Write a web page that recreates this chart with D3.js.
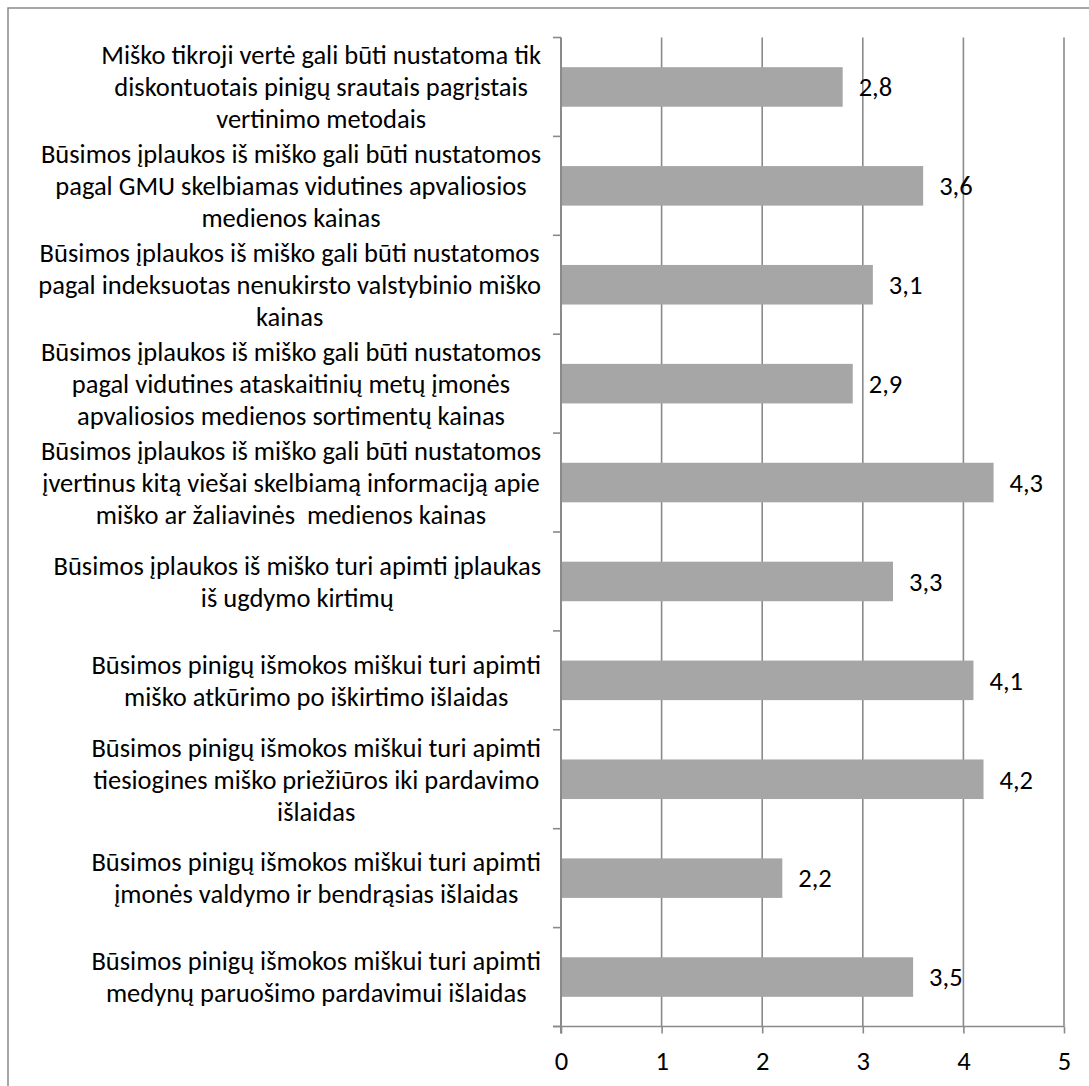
<!DOCTYPE html>
<meta charset="utf-8">
<script src="https://d3js.org/d3.v7.min.js"></script>
<style>
  body { margin: 0; background: #fff; }
  text { font-family: Carlito, Calibri, Lato, sans-serif; fill: #000; }
</style>
<div id="chart"></div>
<script>

// categories (line breaks as in the picture), top to bottom
var labels = [
  ["Miško tikroji vertė gali būti nustatoma tik", "diskontuotais pinigų srautais pagrįstais", "vertinimo metodais"],
  ["Būsimos įplaukos iš miško gali būti nustatomos", "pagal GMU skelbiamas vidutines apvaliosios", "medienos kainas"],
  ["Būsimos įplaukos iš miško gali būti nustatomos", "pagal indeksuotas nenukirsto valstybinio miško", "kainas"],
  ["Būsimos įplaukos iš miško gali būti nustatomos", "pagal vidutines ataskaitinių metų įmonės", "apvaliosios medienos sortimentų kainas"],
  ["Būsimos įplaukos iš miško gali būti nustatomos", "įvertinus kitą viešai skelbiamą informaciją apie", "miško ar žaliavinės  medienos kainas"],
  ["Būsimos įplaukos iš miško turi apimti įplaukas", "iš ugdymo kirtimų"],
  ["Būsimos pinigų išmokos miškui turi apimti", "miško atkūrimo po iškirtimo išlaidas"],
  ["Būsimos pinigų išmokos miškui turi apimti", "tiesiogines miško priežiūros iki pardavimo", "išlaidas"],
  ["Būsimos pinigų išmokos miškui turi apimti", "įmonės valdymo ir bendrąsias išlaidas"],
  ["Būsimos pinigų išmokos miškui turi apimti", "medynų paruošimo pardavimui išlaidas"]
];
var values = [2.8, 3.6, 3.1, 2.9, 4.3, 3.3, 4.1, 4.2, 2.2, 3.5];
var xTicks = [0, 1, 2, 3, 4, 5];

var W = 1089, H = 1086;
var fontSize = 26.5, lineH = 32;
var gridColor = "#8a8a8a";

var svg = d3.select("#chart").append("svg")
    .attr("width", W)
    .attr("height", H);

// outer chart border (right and bottom fall outside the picture)
svg.append("rect")
    .attr("x", 8).attr("y", 8)
    .attr("width", W + 20).attr("height", H + 20)
    .attr("fill", "none")
    .attr("stroke", gridColor)
    .attr("stroke-width", 1.5);

var ids = d3.range(values.length);
var yTop = 37.5, yBottom = 1026.5;

var x = d3.scaleLinear()
    .domain([0, 5])
    .range([561, 1064]);

var y = d3.scaleBand()
    .domain(ids)
    .range([yTop, yBottom])
    .paddingInner(0.6)
    .paddingOuter(0.3);

var yEdge = d3.scaleBand()
    .domain(ids)
    .range([yTop, yBottom]);

// vertical gridlines
svg.append("g")
  .selectAll("line")
  .data(xTicks.slice(1))
  .enter().append("line")
    .attr("x1", function(d) { return x(d); })
    .attr("x2", function(d) { return x(d); })
    .attr("y1", yTop)
    .attr("y2", yBottom)
    .attr("stroke", gridColor)
    .attr("stroke-width", 1.6);

// bottom axis
var xAxis = svg.append("g")
    .attr("transform", "translate(0," + yBottom + ")")
    .call(d3.axisBottom(x).tickValues(xTicks).tickFormat(d3.format("d"))
      .tickSize(7).tickSizeOuter(0).tickPadding(18));
xAxis.select(".domain").remove();
xAxis.selectAll("line").attr("stroke", gridColor).attr("stroke-width", 1.6);
xAxis.selectAll("text")
    .attr("font-size", fontSize)
    .attr("fill", "#000");
xAxis.attr("font-family", null).attr("font-size", null);
xAxis.append("line")
    .attr("x1", 553).attr("x2", x(5))
    .attr("stroke", gridColor).attr("stroke-width", 1.6);

// left axis with ticks between categories
var edges = ids.map(function(d) { return yEdge(d); }).concat([yBottom]);
svg.append("g")
  .selectAll("line")
  .data(edges)
  .enter().append("line")
    .attr("x1", 553).attr("x2", x(0))
    .attr("y1", function(d) { return d; })
    .attr("y2", function(d) { return d; })
    .attr("stroke", gridColor)
    .attr("stroke-width", 1.6);

// bars
svg.append("g")
  .selectAll("rect")
  .data(ids)
  .enter().append("rect")
    .attr("x", x(0))
    .attr("y", function(i) { return y(i); })
    .attr("width", function(i) { return x(values[i]) - x(0); })
    .attr("height", y.bandwidth())
    .attr("fill", "#a6a6a6");

svg.append("line")
    .attr("x1", x(0)).attr("x2", x(0))
    .attr("y1", yTop).attr("y2", yBottom + 7)
    .attr("stroke", gridColor)
    .attr("stroke-width", 2);

// value labels
svg.append("g")
  .selectAll("text")
  .data(ids)
  .enter().append("text")
    .attr("x", function(i) { return x(values[i]) + 16; })
    .attr("y", function(i) { return y(i) + y.bandwidth() / 2; })
    .attr("dy", "0.35em")
    .attr("font-size", fontSize)
    .text(function(i) { return String(values[i]).replace(".", ","); });

// category labels: block right-aligned to the axis, lines centred in block
var labelRight = 541;
var groups = svg.append("g")
  .selectAll("g")
  .data(ids)
  .enter().append("g");

groups.each(function(i) {
  var g = d3.select(this);
  var lines = labels[i];
  var cy = yEdge(i) + yEdge.bandwidth() / 2;
  var t = g.selectAll("text")
    .data(lines)
    .enter().append("text")
      .attr("font-size", fontSize)
      .attr("text-anchor", "middle")
      .attr("dy", "0.35em")
      .attr("y", function(d, k) { return cy + (k - (lines.length - 1) / 2) * lineH; })
      .style("white-space", "pre")
      .text(function(d) { return d; });
  var maxW = d3.max(t.nodes(), function(n) { return n.getComputedTextLength(); });
  t.attr("x", labelRight - maxW / 2);
});

</script>
